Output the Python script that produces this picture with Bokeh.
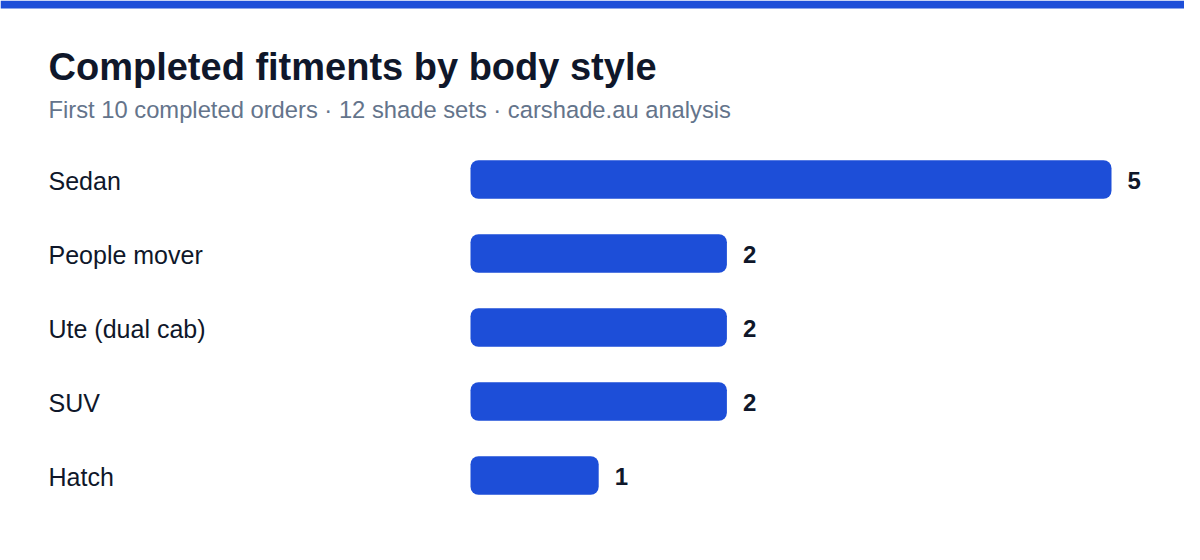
from bokeh.plotting import figure
from bokeh.models import Range1d, Label, BoxAnnotation
from bokeh.core.properties import value
from bokeh.embed import file_html
from bokeh.resources import INLINE

categories = ["Sedan", "People mover", "Ute (dual cab)", "SUV", "Hatch"]
counts = [5, 2, 2, 2, 1]
title_text = "Completed fitments by body style"
subtitle_text = "First 10 completed orders \u00b7 12 shade sets \u00b7 carshade.au analysis"

FONT = "Liberation Sans"
BLUE = "#1d4ed8"
DARK = "#0f172a"
GREY = "#64748b"

W, H = 1184, 544
BAR_X0 = 470          # figure px where value 0 sits
PX_PER_UNIT = 128.2
ROW0_Y = 179          # figure px (from top) of first row centre
ROW_PX = 74

x_range = Range1d(-BAR_X0 / PX_PER_UNIT, (W - BAR_X0) / PX_PER_UNIT)
y_range = Range1d((H - ROW0_Y) / ROW_PX, -ROW0_Y / ROW_PX)


def fx(px):
    return x_range.start + px / PX_PER_UNIT


def fy(py):
    return y_range.end + py / ROW_PX


p = figure(width=W, height=H, x_range=x_range, y_range=y_range,
           output_backend="svg", toolbar_location=None,
           x_axis_type=None, y_axis_type=None, min_border=0,
           outline_line_color=None, background_fill_color="white",
           border_fill_color="white")
p.grid.visible = False

# top accent strip
p.add_layout(BoxAnnotation(left=x_range.start, right=x_range.end,
                           top=fy(0), bottom=fy(8),
                           fill_color=BLUE, fill_alpha=1, line_color=None))

ys = list(range(len(categories)))
p.hbar(y=ys, left=0, right=counts, height=0.52, fill_color=BLUE,
       line_color=None, border_radius=8)

p.text(x=counts, y=ys, text=[str(c) for c in counts], x_offset=16,
       y_offset=1, text_baseline="middle", text_align="left",
       text_font=value(FONT), text_font_size="24px",
       text_font_style="bold", text_color=DARK)

p.text(x=[fx(48)] * len(categories), y=ys, text=categories,
       y_offset=1, text_baseline="middle", text_align="left",
       text_font=value(FONT), text_font_size="25px", text_color=DARK)

p.add_layout(Label(x=fx(48), y=fy(66), text=title_text,
                   text_baseline="alphabetic", text_font=FONT,
                   text_font_size="38px", text_font_style="bold",
                   text_color=DARK))
p.add_layout(Label(x=fx(48), y=fy(109), text=subtitle_text,
                   text_baseline="alphabetic", text_font=FONT,
                   text_font_size="23.75px", text_color=GREY))

open("out.html", "w").write(file_html(p, INLINE))
